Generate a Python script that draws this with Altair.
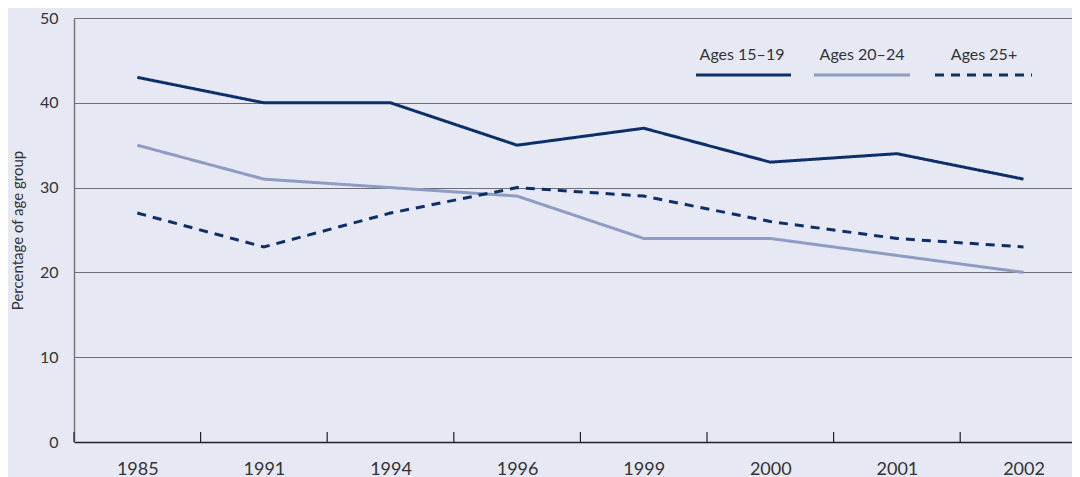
import altair as alt
import pandas as pd

years = ["1985", "1991", "1994", "1996", "1999", "2000", "2001", "2002"]
series_names = ["Ages 15–19", "Ages 20–24", "Ages 25+"]
ages_15_19 = [43, 40, 40, 35, 37, 33, 34, 31]
ages_20_24 = [35, 31, 30, 29, 24, 24, 22, 20]
ages_25_plus = [27, 23, 27, 30, 29, 26, 24, 23]

colors = ["#0d2f69", "#8e9bc3", "#0d2f69"]
dashes = [[1, 0], [1, 0], [9, 7]]
BG = "#e6e9f3"
FONT = "Lato"

rows = []
for name, vals in zip(series_names, [ages_15_19, ages_20_24, ages_25_plus]):
    for y, v in zip(years, vals):
        rows.append({"year": y, "series": name, "value": v})
df = pd.DataFrame(rows)

W, H = 998, 424
BAND_PX = 126.6            # width of one year slot; the last slot runs past the right edge
XMAX = W / BAND_PX

years_js = "[" + ",".join("'%s'" % y for y in years) + "]"
pos_expr = "indexof(%s, datum.year)" % years_js

xscale = alt.Scale(domain=[0, XMAX], nice=False, zero=False)
yscale = alt.Scale(domain=[0, 50], nice=False)

xaxis = alt.Axis(title=None, ticks=False, grid=False, labelAngle=0, labelPadding=18,
                 values=[i + 0.5 for i in range(len(years))],
                 labelExpr="%s[floor(datum.value)]" % years_js,
                 labelFlush=False, labelOverlap=False,
                 domainColor="#222222", domainWidth=1.5,
                 labelFont=FONT, labelFontSize=18, labelColor="#333333")

lines = alt.Chart(df).transform_calculate(
    pos=pos_expr + " + 0.5"
).mark_line(strokeWidth=3).encode(
    x=alt.X("pos:Q", scale=xscale, axis=xaxis),
    y=alt.Y("value:Q", scale=yscale,
            axis=alt.Axis(title="Percentage of age group", values=[0, 10, 20, 30, 40, 50],
                          ticks=False, grid=True, gridColor="#6e6e6e", gridWidth=1,
                          domainColor="#777777", domainWidth=1.5,
                          labelPadding=16, labelFont=FONT, labelFontSize=16,
                          labelColor="#333333", titleFont=FONT, titleFontSize=15,
                          titleFontWeight="normal", titleColor="#333333", titlePadding=14)),
    color=alt.Color("series:N", scale=alt.Scale(domain=series_names, range=colors), legend=None),
    strokeDash=alt.StrokeDash("series:N", scale=alt.Scale(domain=series_names, range=dashes), legend=None),
    detail="series:N",
)

tick_df = pd.DataFrame({"year": years})
ticks = alt.Chart(tick_df).transform_calculate(
    pos=pos_expr
).mark_rule(color="#222222", strokeWidth=1.2).encode(
    x=alt.X("pos:Q", scale=xscale),
    y=alt.value(H - 10),
    y2=alt.value(H),
)

legend_text_x = [668, 788, 910]
legend_line_x = [(622, 717), (740, 836), (861, 958)]
legend_layers = []
for i, name in enumerate(series_names):
    tdf = pd.DataFrame({"t": [name]})
    legend_layers.append(
        alt.Chart(tdf).mark_text(font=FONT, fontSize=16, color="#333333", align="center",
                                 baseline="alphabetic").encode(
            x=alt.value(legend_text_x[i]), y=alt.value(42), text="t:N")
    )
    legend_layers.append(
        alt.Chart(tdf).mark_rule(strokeWidth=3, color=colors[i], strokeDash=dashes[i]).encode(
            x=alt.value(legend_line_x[i][0]), x2=alt.value(legend_line_x[i][1]), y=alt.value(57))
    )

chart = alt.layer(lines, ticks, *legend_layers).properties(
    width=W, height=H,
    autosize=alt.AutoSizeParams(type="none"),
    padding={"left": 66, "top": 10, "right": 0, "bottom": 35},
    background=BG,
).configure_view(stroke=None, fill=BG)

chart.save("out.html", embed_options={"renderer": "svg", "actions": False})
